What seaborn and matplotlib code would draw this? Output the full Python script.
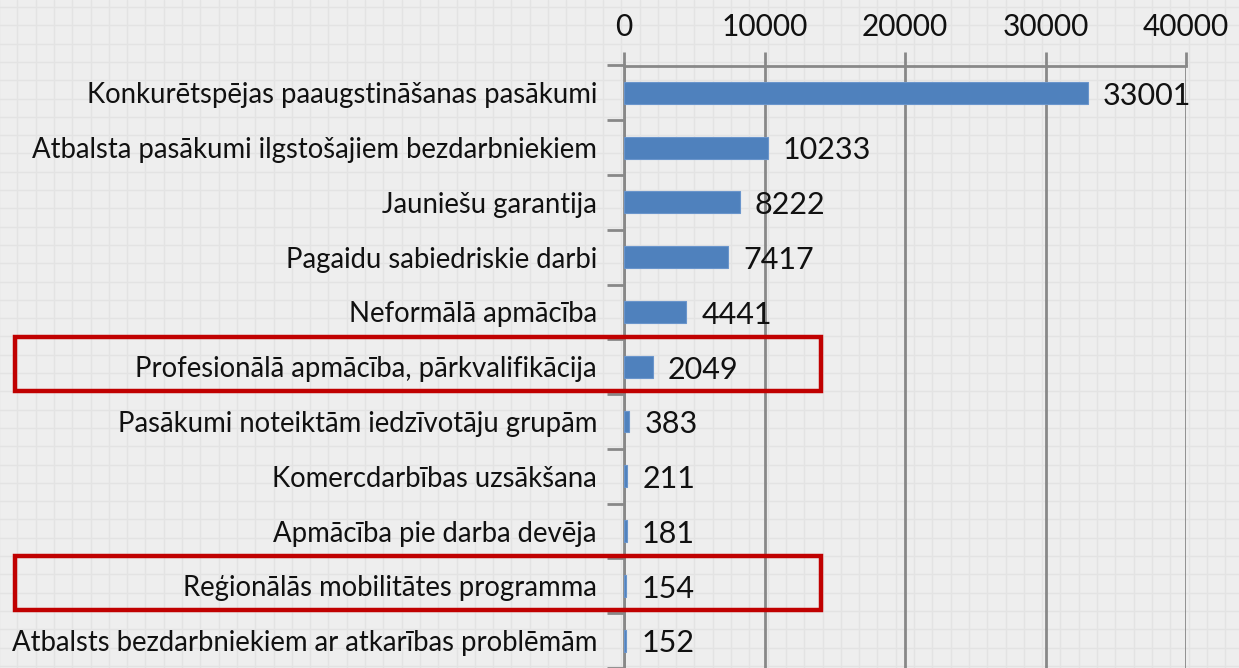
import numpy as np
import pandas as pd
import matplotlib
matplotlib.use("Agg")
import matplotlib.pyplot as plt
from matplotlib.patches import Rectangle
import seaborn as sns

categories = [
    "Konkurētspējas paaugstināšanas pasākumi",
    "Atbalsta pasākumi ilgstošajiem bezdarbniekiem",
    "Jauniešu garantija",
    "Pagaidu sabiedriskie darbi",
    "Neformālā apmācība",
    "Profesionālā apmācība, pārkvalifikācija",
    "Pasākumi noteiktām iedzīvotāju grupām",
    "Komercdarbības uzsākšana",
    "Apmācība pie darba devēja",
    "Reģionālās mobilitātes programma",
    "Atbalsts bezdarbniekiem ar atkarības problēmām",
]
values = [33001, 10233, 8222, 7417, 4441, 2049, 383, 211, 181, 154, 152]
x_ticks = [0, 10000, 20000, 30000, 40000]
highlighted = ["Profesionālā apmācība, pārkvalifikācija", "Reģionālās mobilitātes programma"]

sns.set_theme(style="white")
plt.rcParams["font.family"] = ["Lato", "DejaVu Sans"]

W, H = 1239, 668
fig = plt.figure(figsize=(W / 100, H / 100), dpi=100)
fig.patch.set_facecolor("#eeeeee")

# background graph-paper texture
bg = fig.add_axes([0, 0, 1, 1], zorder=-10)
bg.set_xlim(0, W)
bg.set_ylim(H, 0)
bg.set_facecolor("#eeeeee")
step = 18.3
for xx in np.arange(-1, W, step):
    bg.axvline(xx, color="#e3e3e3", lw=1)
for yy in np.arange(7, H, step):
    bg.axhline(yy, color="#e3e3e3", lw=1)
bg.axis("off")

ax = fig.add_axes([624 / W, 0, (1186 - 624) / W, 1 - 65.5 / H])
ax.patch.set_alpha(0)

df = pd.DataFrame({"cat": categories, "val": values})
sns.barplot(data=df, y="cat", x="val", orient="h", color="#4f81bd",
            saturation=1, width=0.4, ax=ax, zorder=3, linewidth=0.8,
            edgecolor="#6a95cc")

ax.set_xlim(0, 40000)
ax.set_ylim(10.5, -0.5)
ax.set_xlabel("")
ax.set_ylabel("")

gc = "#888888"
ax.xaxis.tick_top()
ax.set_xticks(x_ticks)
ax.set_xticklabels([str(t) for t in x_ticks], fontsize=21.5, color="#111111")
ax.tick_params(axis="x", direction="out", length=10, width=2, color=gc, pad=8, top=True, bottom=False)
ax.grid(axis="x", color=gc, lw=2, zorder=1)

ax.set_yticks(range(len(categories)))
ax.set_yticklabels(categories, fontsize=19.8, color="#111111")
ax.tick_params(axis="y", length=0, pad=19.5)
ax.set_yticks(np.arange(-0.5, len(categories), 1), minor=True)
ax.tick_params(axis="y", which="minor", direction="out", length=12, width=2, color=gc, left=True)

for s in ["right", "bottom"]:
    ax.spines[s].set_visible(False)
for s in ["top", "left"]:
    ax.spines[s].set_color(gc)
    ax.spines[s].set_linewidth(2)

for c in ax.containers:
    anns = ax.bar_label(c, labels=[str(v) for v in values], padding=11, fontsize=22,
                        color="#111111")
    for a in anns:
        a.xyann = (a.xyann[0], a.xyann[1] - 2)

# highlight boxes
x_left = (15 - 624) / (1186 - 624) * 40000
x_right = (821 - 624) / (1186 - 624) * 40000
for name in highlighted:
    i = categories.index(name)
    r = Rectangle((x_left, i - 0.55), x_right - x_left, 1.0, fill=False,
                  edgecolor="#c00000", lw=3.2, clip_on=False, zorder=5)
    ax.add_patch(r)

fig.savefig("out.png", dpi=100, facecolor=fig.get_facecolor())
